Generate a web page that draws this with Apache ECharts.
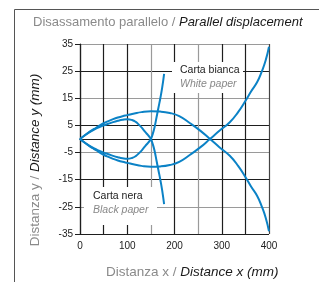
<!DOCTYPE html>
<html>
<head>
<meta charset="utf-8">
<script src="https://cdn.jsdelivr.net/npm/echarts@6/dist/echarts.min.js"></script>
<style>
  html, body { margin: 0; padding: 0; background: #fff; }
  #chart { width: 319px; height: 282px; }
</style>
</head>
<body>
<div id="chart"></div>
<script>
// curve points, [x mm, y mm]
var whiteUpper = [[0, 0], [10, 1.4], [20, 2.6], [30, 3.7], [40, 4.8], [50, 5.8], [60, 6.6], [70, 7.3], [80, 7.9], [90, 8.4], [100, 8.8], [115, 9.4], [130, 9.9], [150, 10.2], [170, 10.1], [190, 9.6], [210, 8.4], [233, 5.8], [255, 3], [275, 0], [295, -3], [317, -6.2], [335, -10], [350, -14], [362, -17.5], [375, -21], [385, -25], [393, -29], [400, -34]]
var whiteLower = [[0, 0], [10, -1.4], [20, -2.6], [30, -3.7], [40, -4.8], [50, -5.8], [60, -6.6], [70, -7.3], [80, -7.9], [90, -8.4], [100, -8.8], [115, -9.4], [130, -9.9], [150, -10.2], [170, -10.1], [190, -9.6], [210, -8.4], [233, -5.8], [255, -3], [275, 0], [295, 3], [317, 6.2], [335, 10], [350, 14], [362, 17.5], [375, 21], [385, 25], [393, 29], [400, 34]]
var blackUpper = [[0, 0], [10, 1.3], [20, 2.5], [30, 3.5], [40, 4.3], [50, 5], [60, 5.6], [70, 6.2], [80, 6.7], [90, 7.1], [100, 7.3], [110, 7], [118, 6.3], [125, 5.2], [132, 3.9], [138, 2.6], [144, 1.4], [150, 0], [154, -1.9], [158, -4.5], [162, -8], [166, -11.5], [170, -15], [174, -19], [178, -24]]
var blackLower = [[0, 0], [10, -1.3], [20, -2.5], [30, -3.5], [40, -4.3], [50, -5], [60, -5.6], [70, -6.2], [80, -6.7], [90, -7.1], [100, -7.3], [110, -7], [118, -6.3], [125, -5.2], [132, -3.9], [138, -2.6], [144, -1.4], [150, 0], [154, 1.9], [158, 4.5], [162, 8], [166, 11.5], [170, 15], [174, 19], [178, 24]]

var xLabels = [0, 100, 200, 300, 400]
var yLabels = [-35, -25, -15, -5, 5, 15, 25, 35]

var FONT = '"Liberation Sans", sans-serif'
var BLUE = '#0b82c6'
var DARK = '#1e1e1e'
var GREY = '#9a9a9a'

var chart = echarts.init(document.getElementById('chart'))

var lineSeries = function (data) {
  return {
    type: 'line',
    data: data,
    smooth: true,
    showSymbol: false,
    symbol: 'none',
    lineStyle: { color: BLUE, width: 2 },
    z: 5
  }
}

var nameRich = {
  a: { fontFamily: FONT, fontSize: 13.5, fill: '#8a8a8a' },
  b: { fontFamily: FONT, fontSize: 13.5, fill: '#1a1a1a', fontStyle: 'italic' }
}

var options = {
  backgroundColor: '#fff',
  animation: false,
  textStyle: { fontFamily: FONT },
  grid: { left: 80, top: 44, width: 189, height: 190 },
  xAxis: {
    type: 'value',
    min: 0,
    max: 400,
    interval: 50,
    axisLine: { show: true, lineStyle: { color: DARK, width: 1.2 } },
    axisTick: { show: false },
    axisLabel: {
      customValues: xLabels,
      color: '#222',
      fontSize: 10,
      fontFamily: FONT,
      margin: 7
    },
    splitLine: {
      show: true,
      lineStyle: {
        width: 1.2,
        color: [DARK, DARK, DARK, GREY, DARK, GREY, DARK, DARK, '#444']
      }
    }
  },
  yAxis: {
    type: 'value',
    min: -35,
    max: 35,
    interval: 5,
    axisLine: { show: true, lineStyle: { color: DARK, width: 1.2 } },
    axisTick: { show: true, customValues: yLabels, length: 5, lineStyle: { color: DARK } },
    axisLabel: {
      customValues: yLabels,
      color: '#222',
      fontSize: 10,
      fontFamily: FONT,
      margin: 7
    },
    splitLine: {
      show: true,
      lineStyle: { width: 1.2, color: [DARK, GREY] }
    }
  },
  title: {
    text: '{a|Disassamento parallelo / }{b|Parallel displacement}',
    left: 28,
    top: 11,
    textStyle: {
      fontWeight: 'normal',
      rich: {
        a: { fontFamily: FONT, fontSize: 13, color: '#8a8a8a', fontWeight: 'normal' },
        b: { fontFamily: FONT, fontSize: 13, color: '#1a1a1a', fontStyle: 'italic', fontWeight: 'normal' }
      }
    }
  },
  graphic: [
    { type: 'line', shape: { x1: 14.5, y1: 9.5, x2: 319, y2: 9.5 }, style: { stroke: '#555', lineWidth: 1 } },
    { type: 'line', shape: { x1: 14.5, y1: 9.5, x2: 14.5, y2: 282 }, style: { stroke: '#555', lineWidth: 1 } },
    {
      type: 'text',
      x: 106,
      y: 272,
      style: { text: '{a|Distanza x / }{b|Distance x (mm)}', verticalAlign: 'middle', rich: nameRich }
    },
    {
      type: 'text',
      x: 35,
      y: 160,
      rotation: Math.PI / 2,
      style: { text: '{a|Distanza y / }{b|Distance y (mm)}', align: 'center', verticalAlign: 'middle', rich: nameRich }
    },
    // label boxes
    { type: 'rect', z: 10, shape: { x: 172, y: 62, width: 71, height: 31 }, style: { fill: '#fff' } },
    { type: 'text', z: 11, x: 180, y: 70, style: { text: 'Carta bianca', verticalAlign: 'middle', font: '10.5px ' + FONT, fill: '#222' } },
    { type: 'text', z: 11, x: 180, y: 84, style: { text: 'White paper', verticalAlign: 'middle', font: 'italic 10.5px ' + FONT, fill: '#888' } },
    { type: 'rect', z: 10, shape: { x: 84, y: 187, width: 73, height: 38 }, style: { fill: '#fff' } },
    { type: 'text', z: 11, x: 93, y: 196, style: { text: 'Carta nera', verticalAlign: 'middle', font: '10.5px ' + FONT, fill: '#222' } },
    { type: 'text', z: 11, x: 93, y: 210, style: { text: 'Black paper', verticalAlign: 'middle', font: 'italic 10.5px ' + FONT, fill: '#888' } }
  ],
  series: [
    lineSeries(whiteUpper),
    lineSeries(whiteLower),
    lineSeries(blackUpper),
    lineSeries(blackLower)
  ]
}

chart.setOption(options)
</script>
</body>
</html>
